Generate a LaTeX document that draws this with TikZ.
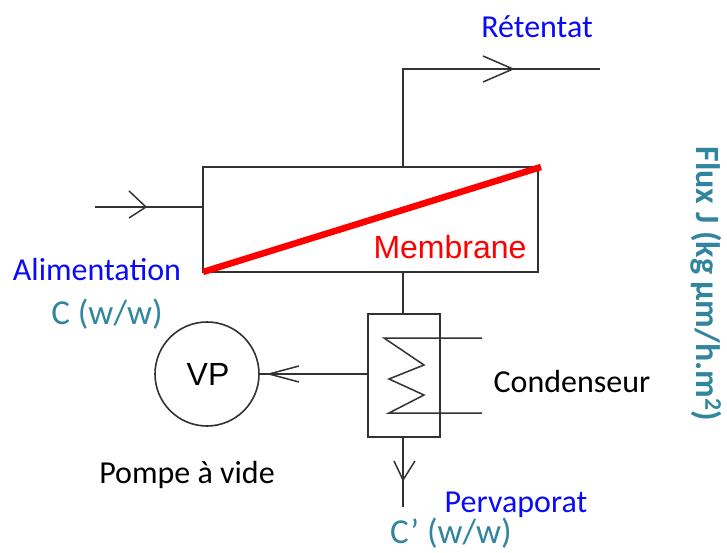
\documentclass[tikz,border=0pt]{standalone}
\usepackage{fontspec}
\setmainfont{Carlito}
\newfontfamily\arialf{Liberation Sans}
\definecolor{linegray}{RGB}{50,50,50}
\definecolor{tealtxt}{RGB}{49,133,156}
\definecolor{bluetxt}{RGB}{10,10,250}
\tikzset{
  x=1pt,y=-1pt,
  wire/.style={draw=linegray,line width=1.7pt},
  box/.style={draw=linegray,line width=1.8pt,inner sep=0pt,minimum width=0pt},
  thin wire/.style={draw=linegray,line width=1.5pt},
  lbl/.style={inner sep=0pt,font=\fontsize{32}{32}\selectfont,anchor=center},
  blue lbl/.style={lbl,text=bluetxt},
  teal lbl/.style={lbl,text=tealtxt,font=\fontsize{35}{35}\selectfont},
  black lbl/.style={lbl,text=black}
}
\begin{document}
\begin{tikzpicture}
\useasboundingbox (0,0) rectangle (727,553);
% membrane box
\node[box,minimum width=335pt,minimum height=105pt] (mem) at (370.5,219.5) {};
% condenser
\node[box,minimum width=72pt,minimum height=123pt] (cond) at (404,375.5) {};
% pump
\node[draw=linegray,line width=1.6pt,circle,minimum size=104pt,inner sep=0pt,font=\arialf\fontsize{32}{32}\selectfont] (vp) at (207,374) {\hspace{2pt}VP};
% retentate
\coordinate (corner) at (403,69);
\coordinate (retTip) at (513,69);
\coordinate (retEnd) at (600,69);
\draw[wire] (403,167) -- (corner) -- (retEnd);
\draw[thin wire] (483,56) -- (retTip) -- (483,82);
% feed
\coordinate (feedStart) at (95,207);
\coordinate (feedTip) at (146,207);
\draw[wire] (feedStart) -- (mem.west |- feedStart);
\draw[thin wire] (129,191) -- (feedTip) -- (129,218);
% membrane to condenser
\draw[wire] (mem.south -| 403,0) -- (cond.north -| 403,0);
% condenser to pump
\coordinate (vpTip) at (269,374);
\draw[wire] (cond.west |- vp.east) -- (vp.east);
\draw[thin wire] (299,366) -- (vpTip) -- (299,382);
% permeate
\coordinate (perEnd) at (403,507);
\draw[wire] (cond.south -| perEnd) -- (perEnd);
\draw[thin wire] (394,461) -- (403,480) -- (415,461);
% coil
\draw[thin wire,line join=miter] (482,338) -- (384,338) -- (424,365) -- (389,379) -- (424,395) -- (389,413) -- (482,413);
% membrane line
\draw[red,line width=6.5pt] (203,272) -- (541,167);
% labels
\node[anchor=center,inner sep=0pt,text=red,font=\arialf\fontsize{32}{32}\selectfont] (mlab) at (450,247) {Membrane};
\node[blue lbl] (t1) at (537,27) {Rétentat};
\node[blue lbl] (t2) at (97,270) {Alimentation};
\node[teal lbl] (t3) at (107,314) {C (w/w)};
\node[black lbl] (t4) at (572,382) {Condenseur};
\node[black lbl] (t5) at (187,475) {Pompe à vide};
\node[blue lbl] (t6) at (516,505) {Pervaporat};
\node[teal lbl] (t7) at (451,533) {C’ (w/w)};
\node[teal lbl,rotate=-90,font=\fontsize{34}{34}\bfseries\selectfont] (t8) at (706,284) {Flux J (kg µm/h.m\textsuperscript{2})};
\end{tikzpicture}
\end{document}
